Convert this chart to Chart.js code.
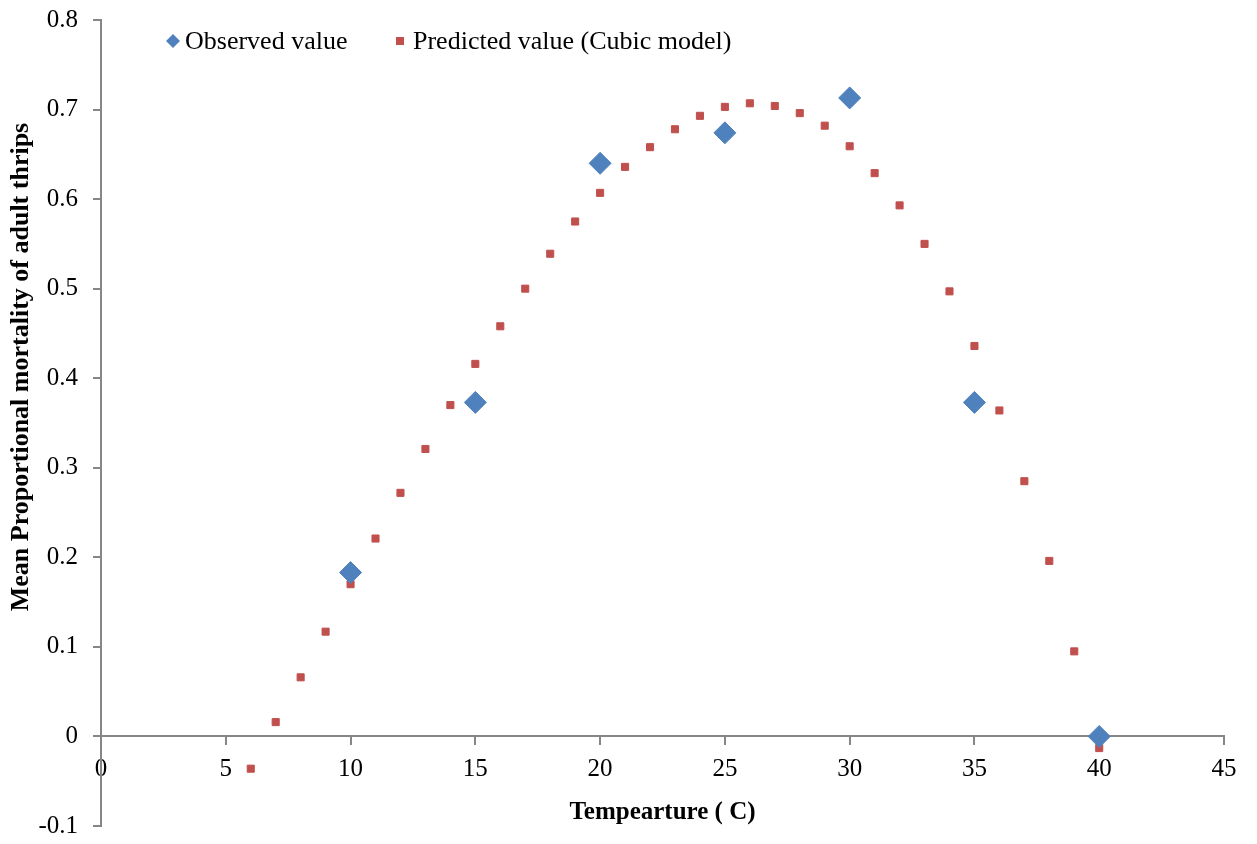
<!DOCTYPE html>
<html>
<head>
<meta charset="utf-8">
<script src="https://cdn.jsdelivr.net/npm/chart.js@4.4.1/dist/chart.umd.min.js"></script>
<style>
  html, body { margin: 0; padding: 0; background: #fff; }
  #wrap { width: 1257px; height: 844px; position: relative; }
</style>
</head>
<body>
<div id="wrap"><canvas id="c" width="1257" height="844"></canvas></div>
<script>
// ---- Data ----
const observedTemps = [10, 15, 20, 25, 30, 35, 40];
const observedValues = [0.183, 0.373, 0.640, 0.674, 0.713, 0.373, 0.000];

const predictedTemps = [6, 7, 8, 9, 10, 11, 12, 13, 14, 15, 16, 17, 18, 19, 20, 21, 22, 23,
  24, 25, 26, 27, 28, 29, 30, 31, 32, 33, 34, 35, 36, 37, 38, 39, 40];
const predictedValues = [-0.036, 0.016, 0.066, 0.117, 0.170, 0.221, 0.272, 0.321, 0.370, 0.416,
  0.458, 0.500, 0.539, 0.575, 0.607, 0.636, 0.658, 0.678, 0.693, 0.703, 0.707, 0.704, 0.696,
  0.682, 0.659, 0.629, 0.593, 0.550, 0.497, 0.436, 0.364, 0.285, 0.196, 0.095, -0.013];

const seriesNames = ['Observed value', 'Predicted value (Cubic model)'];
const xTitle = 'Tempearture ( C)';
const yTitle = 'Mean Proportional mortality of adult thrips';
const xRange = [0, 45, 5];
const yRange = [-0.1, 0.8, 0.1];

const BLUE = '#4F81BD';
const RED = '#C0504D';
const AXIS = '#868686';
const FONT = "'Liberation Serif', 'Times New Roman', serif";

const toPoints = (xs, ys) => xs.map((x, i) => ({ x: x, y: ys[i] }));

// Legend drawn inside the plot area, and rotated y title placed like the original
const extras = {
  id: 'extras',
  afterDraw(chart) {
    const ctx = chart.ctx;
    const y = 41;
    ctx.save();
    // legend item 1: diamond
    ctx.fillStyle = BLUE;
    ctx.beginPath();
    ctx.moveTo(173, y - 7); ctx.lineTo(180, y); ctx.lineTo(173, y + 7); ctx.lineTo(166, y);
    ctx.closePath(); ctx.fill();
    ctx.fillStyle = '#000';
    ctx.font = '26px ' + FONT;
    ctx.textBaseline = 'middle';
    ctx.textAlign = 'left';
    ctx.fillText(seriesNames[0], 185, y + 1);
    // legend item 2: square
    ctx.fillStyle = RED;
    ctx.fillRect(396, y - 4, 8, 8);
    ctx.fillStyle = '#000';
    ctx.fillText(seriesNames[1], 413, y + 1);
    // y title
    ctx.translate(21, 367);
    ctx.rotate(-Math.PI / 2);
    ctx.font = 'bold 26px ' + FONT;
    ctx.textAlign = 'center';
    ctx.textBaseline = 'middle';
    ctx.fillText(yTitle, 0, 0);
    ctx.restore();
  }
};

new Chart(document.getElementById('c'), {
  type: 'scatter',
  data: {
    datasets: [
      {
        label: seriesNames[1],
        data: toPoints(predictedTemps, predictedValues),
        pointStyle: 'rect',
        pointRadius: 5,
        pointHoverRadius: 5,
        backgroundColor: RED,
        borderColor: RED,
        borderWidth: 1,
        order: 2
      },
      {
        label: seriesNames[0],
        data: toPoints(observedTemps, observedValues),
        pointStyle: 'rectRot',
        pointRadius: 11,
        pointHoverRadius: 11,
        backgroundColor: BLUE,
        borderColor: BLUE,
        borderWidth: 1,
        order: 1
      }
    ]
  },
  options: {
    responsive: false,
    animation: false,
    events: [],
    layout: { autoPadding: false, padding: { left: 0, right: 33, top: 20, bottom: 18 } },
    plugins: {
      legend: { display: false },
      tooltip: { enabled: false }
    },
    scales: {
      x: {
        type: 'linear',
        position: { y: 0 },
        min: xRange[0],
        max: xRange[1],
        afterFit(s) { s.height = 24; s.paddingLeft = 0; s.paddingRight = 0; s.paddingTop = 0; s.paddingBottom = 0; },
        border: { display: true, color: AXIS, width: 2 },
        grid: { display: true, drawOnChartArea: false, drawTicks: true, tickLength: 8, color: AXIS, lineWidth: 2 },
        ticks: {
          stepSize: xRange[2],
          padding: 10,
          color: '#000',
          font: { family: FONT, size: 25 },
          maxRotation: 0,
          callback: v => String(v)
        },
        title: {
          display: true,
          text: xTitle,
          color: '#000',
          font: { family: FONT, size: 25, weight: 'bold' },
          padding: { top: 0, bottom: -67 }
        }
      },
      y: {
        type: 'linear',
        position: 'left',
        min: yRange[0],
        max: yRange[1],
        afterFit(s) { s.width = 101; s.paddingTop = 0; s.paddingBottom = 0; s.paddingLeft = 0; s.paddingRight = 0; },
        border: { display: true, color: AXIS, width: 2 },
        grid: { display: true, drawOnChartArea: false, drawTicks: true, tickLength: 8, color: AXIS, lineWidth: 2 },
        ticks: {
          stepSize: yRange[2],
          padding: 15,
          color: '#000',
          font: { family: FONT, size: 25 },
          callback: v => (Math.abs(v) < 1e-9 ? '0' : (Math.round(v * 10) / 10).toFixed(1))
        },
        title: { display: false }
      }
    }
  },
  plugins: [extras]
});
</script>
</body>
</html>
